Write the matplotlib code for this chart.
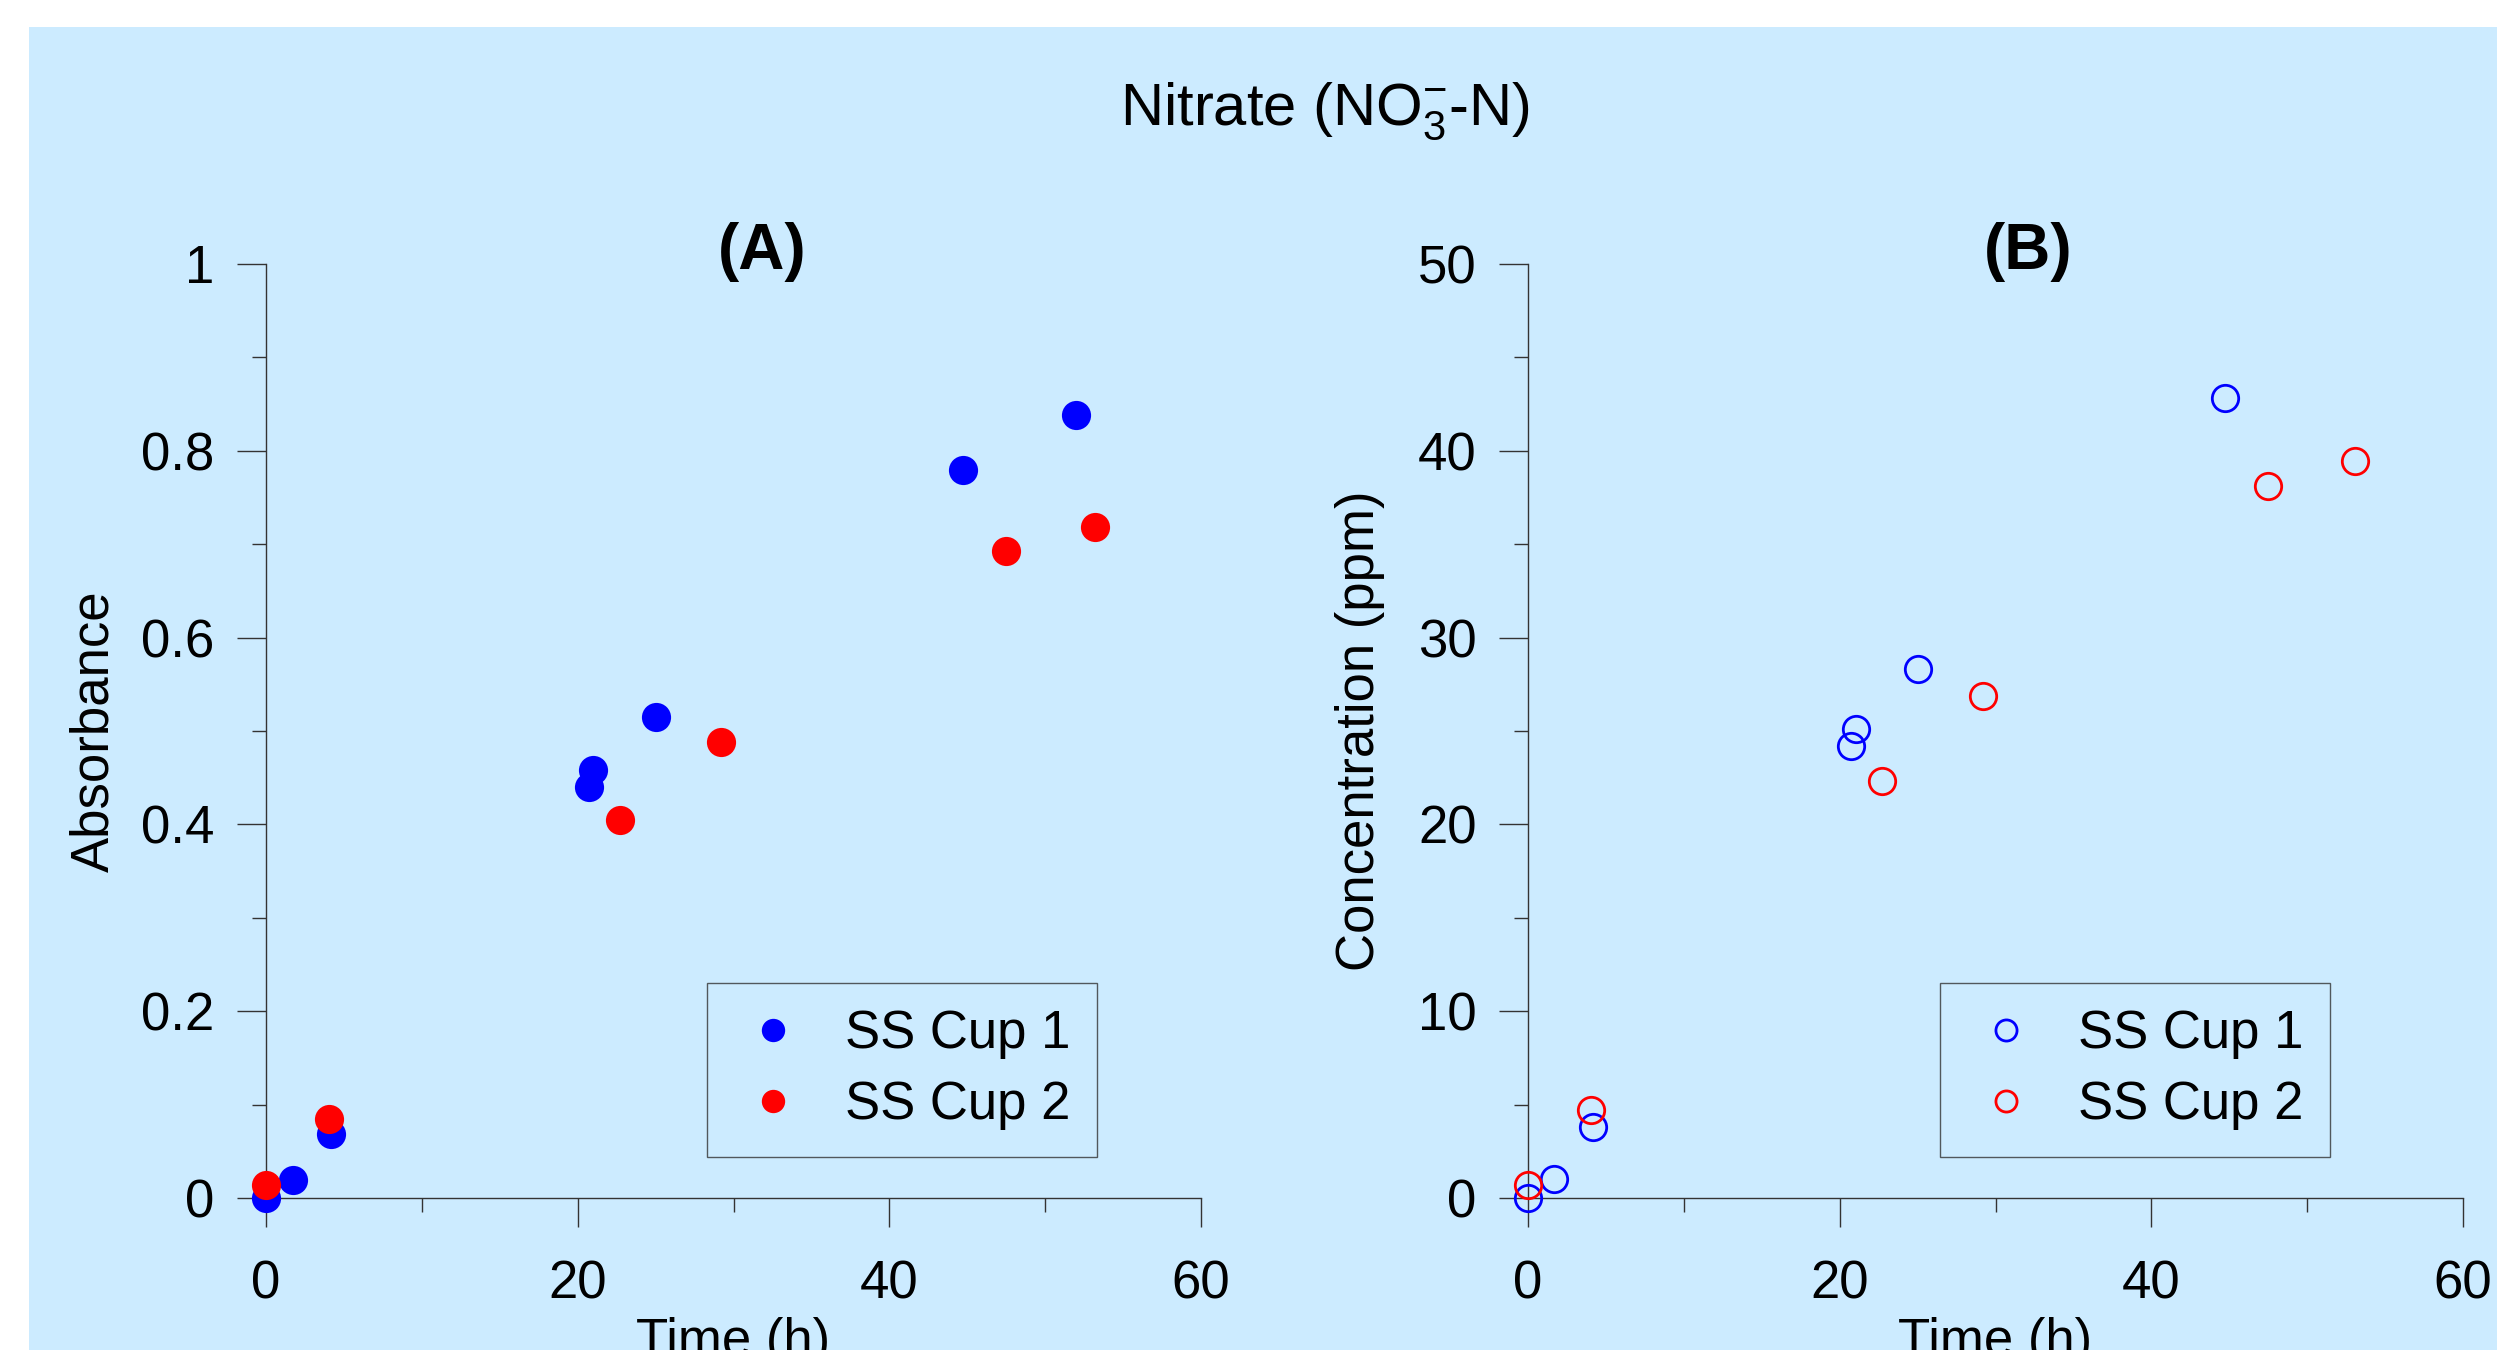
import matplotlib
matplotlib.use("Agg")
import matplotlib.pyplot as plt
from matplotlib.patches import Rectangle
from matplotlib.ticker import MultipleLocator, FuncFormatter

plt.rcParams['font.family'] = ['Liberation Sans', 'DejaVu Sans']
plt.rcParams['mathtext.fontset'] = 'custom'
plt.rcParams['mathtext.rm'] = 'Liberation Sans'
plt.rcParams['mathtext.it'] = 'Liberation Sans:italic'
plt.rcParams['mathtext.bf'] = 'Liberation Sans:bold'

# ---- data ----
time_a_cup1 = [0.0, 1.75, 4.2, 20.7, 21.0, 25.0, 44.7, 52.0]
abs_cup1 = [0.0, 0.019, 0.068, 0.440, 0.458, 0.515, 0.779, 0.838]
time_a_cup2 = [0.0, 4.05, 22.7, 29.2, 47.5, 53.2]
abs_cup2 = [0.014, 0.085, 0.405, 0.488, 0.693, 0.718]

time_b_cup1 = [0.0, 1.7, 4.2, 20.7, 21.05, 25.0, 44.7]
conc_cup1 = [0.0, 1.0, 3.8, 24.2, 25.1, 28.3, 42.8]
time_b_cup2 = [0.0, 4.05, 22.7, 29.2, 47.5, 53.1]
conc_cup2 = [0.7, 4.7, 22.3, 26.85, 38.1, 39.45]

series_labels = ["SS Cup 1", "SS Cup 2"]
colors = ["#0000FF", "#FF0000"]
title_text = r"Nitrate (NO$_{3}^{-}$-N)"
panel_labels = ["(A)", "(B)"]
xlabel = "Time (h)"
ylabels = ["Absorbance", "Concentration (ppm)"]

W, H = 2497, 1350
fig = plt.figure(figsize=(W / 100, H / 100), dpi=100, facecolor="white")
bg = "#CCEBFF"
fig.patches.append(Rectangle((29 / W, 0), 1 - 29 / W, 1 - 27 / H,
                             transform=fig.transFigure, facecolor=bg,
                             edgecolor="none", zorder=-10))

FS = 38
spine_c = "#333333"

def fmt(v, pos):
    s = f"{v:.1f}"
    if s.endswith(".0"):
        s = s[:-2]
    return s

def style_axes(ax, ymax, ymajor, yminor):
    ax.set_facecolor("none")
    for s in ["top", "right"]:
        ax.spines[s].set_visible(False)
    for s in ["left", "bottom"]:
        ax.spines[s].set_color(spine_c)
        ax.spines[s].set_linewidth(1.0)
    ax.set_xlim(0, 60)
    ax.set_ylim(0, ymax)
    ax.xaxis.set_major_locator(MultipleLocator(20))
    ax.xaxis.set_minor_locator(MultipleLocator(10))
    ax.yaxis.set_major_locator(MultipleLocator(ymajor))
    ax.yaxis.set_minor_locator(MultipleLocator(yminor))
    ax.yaxis.set_major_formatter(FuncFormatter(fmt))
    ax.tick_params(which="major", direction="out", length=21, width=1.0,
                   color=spine_c, labelsize=FS)
    ax.tick_params(which="minor", direction="out", length=10, width=1.0,
                   color=spine_c)
    ax.tick_params(axis="x", which="major", pad=23)
    ax.tick_params(axis="y", which="major", pad=16)
    ax.set_xlabel(xlabel, fontsize=FS)
    ax.xaxis.set_label_coords(0.5, -0.127)

axw = 935 / W
axh = 934 / H
axb = (H - 1198) / H
axA = fig.add_axes([266 / W, axb, axw, axh])
axB = fig.add_axes([1528 / W, axb, axw, axh])

# Panel A
style_axes(axA, 1.0, 0.2, 0.1)
axA.plot(time_a_cup1, abs_cup1, linestyle="none", marker="o", markersize=21,
         markeredgewidth=0, color=colors[0], label=series_labels[0], clip_on=False, zorder=3)
axA.plot(time_a_cup2, abs_cup2, linestyle="none", marker="o", markersize=21,
         markeredgewidth=0, color=colors[1], label=series_labels[1], clip_on=False, zorder=4)
axA.set_ylabel(ylabels[0], fontsize=FS)
axA.yaxis.set_label_coords(-0.157, 0.5)

# Panel B
style_axes(axB, 50, 10, 5)
axB.plot(time_b_cup1, conc_cup1, linestyle="none", marker="o", markersize=19,
         markeredgewidth=2, markerfacecolor="none", markeredgecolor=colors[0],
         label=series_labels[0], clip_on=False, zorder=3)
axB.plot(time_b_cup2, conc_cup2, linestyle="none", marker="o", markersize=19,
         markeredgewidth=2, markerfacecolor="none", markeredgecolor=colors[1],
         label=series_labels[1], clip_on=False, zorder=4)
axB.set_ylabel(ylabels[1], fontsize=FS)
axB.yaxis.set_label_coords(-0.153, 0.5)

for ax, lx in [(axA, (707 - 266) / 935), (axB, (1940 - 1528) / 935)]:
    leg = ax.legend(loc="upper left", bbox_to_anchor=(lx, (1198 - 983) / 934),
                    fontsize=FS, frameon=True, fancybox=False, markerscale=0.8,
                    borderpad=0.5, handlelength=1.5, handletextpad=0.62,
                    labelspacing=0.4, borderaxespad=0, numpoints=1)
    fr = leg.get_frame()
    fr.set_facecolor("none")
    fr.set_edgecolor(spine_c)
    fr.set_linewidth(1.0)

fig.text(1325 / W, (H - 125) / H, title_text, fontsize=43, ha="center", va="baseline")
fig.text(762 / W, (H - 269) / H, panel_labels[0], fontsize=46, fontweight="bold",
         ha="center", va="baseline")
fig.text(2028 / W, (H - 269) / H, panel_labels[1], fontsize=46, fontweight="bold",
         ha="center", va="baseline")

fig.savefig("out.png", dpi=100, facecolor=fig.get_facecolor())
